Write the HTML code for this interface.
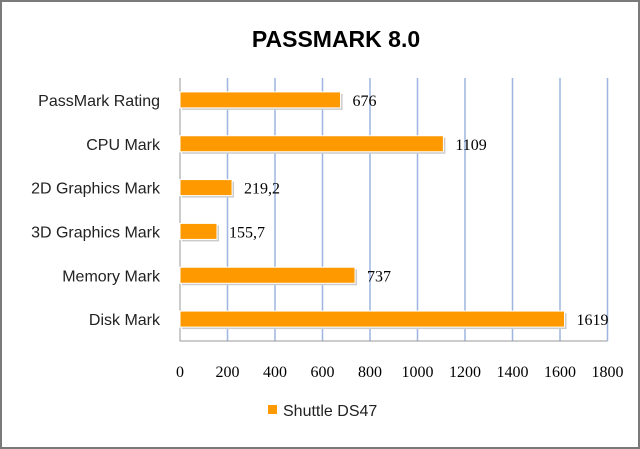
<!DOCTYPE html>
<html><head><meta charset="utf-8"><style>
body{margin:0;width:640px;height:449px;overflow:hidden;background:#fff;font-family:"Liberation Sans",sans-serif}
#frame{position:absolute;left:0;top:0;width:636px;height:445px;border:2px solid #7a7a7a;box-shadow:2px 2px 0 #555}
</style></head><body>
<div id="frame"></div>
<svg id="chart" width="640" height="449" style="position:absolute;left:0;top:0">
<text x="336" y="47" text-anchor="middle" font-size="23" font-weight="bold" fill="#000">PASSMARK 8.0</text>
<g id="grid"></g><g id="bars"></g><g id="labels"></g>
<rect x="268" y="405" width="9" height="9" fill="#ff9900"/>
<text x="283" y="416" font-size="16" fill="#222">Shuttle DS47</text>
</svg>
<script>
const categories=["PassMark Rating","CPU Mark","2D Graphics Mark","3D Graphics Mark","Memory Mark","Disk Mark"];
const values=[676,1109,219.2,155.7,737,1619];
const valueLabels=["676","1109","219,2","155,7","737","1619"];
const ticks=[0,200,400,600,800,1000,1200,1400,1600,1800];
const NS="http://www.w3.org/2000/svg";
const x0=180,x1=607.5,yTop=78,yBot=341,vmax=1800;
const xs=v=>x0+(v/vmax)*(x1-x0);
const band=(yBot-yTop)/categories.length;
const yc=i=>yTop+band*(i+0.5);
function mk(t,a,p){const e=document.createElementNS(NS,t);for(const k in a)e.setAttribute(k,a[k]);p.appendChild(e);return e;}
const grid=document.getElementById('grid'),bars=document.getElementById('bars'),labels=document.getElementById('labels');
ticks.forEach(t=>{
 if(t>0){const l=mk('line',{x1:xs(t),x2:xs(t),y1:yTop,y2:yBot,stroke:'#9db5e0','stroke-width':1.5},grid);
 
 }
 const tx=mk('text',{x:xs(t),y:377,'text-anchor':'middle','font-size':16,'font-family':'Liberation Serif, serif',fill:'#000'},labels);
 tx.textContent=t;
 
 
});
const ax=mk('path',{d:`M${x0} ${yTop}V${yBot}H${x1}`,stroke:'#999',fill:'none'},grid);


categories.forEach((c,i)=>{
 const y=yc(i);
 const sh=mk('rect',{x:x0+2,y:y-8+2,width:xs(values[i])-x0,height:16,fill:'#ccc'},bars);
 
 
 const r=mk('rect',{x:x0,y:y-8,width:xs(values[i])-x0,height:16,fill:'#ff9900',stroke:'#fff','stroke-width':1},bars);
 
 
 const lt=mk('text',{x:160,y:y+6,'text-anchor':'end','font-size':16,fill:'#222'},labels);
 lt.textContent=c;
 
 
 const vt=mk('text',{x:xs(values[i])+12,y:y+6,'font-size':16,'font-family':'Liberation Serif, serif',fill:'#000'},labels);
 vt.textContent=valueLabels[i];
 
 
});
</script>
</body></html>
